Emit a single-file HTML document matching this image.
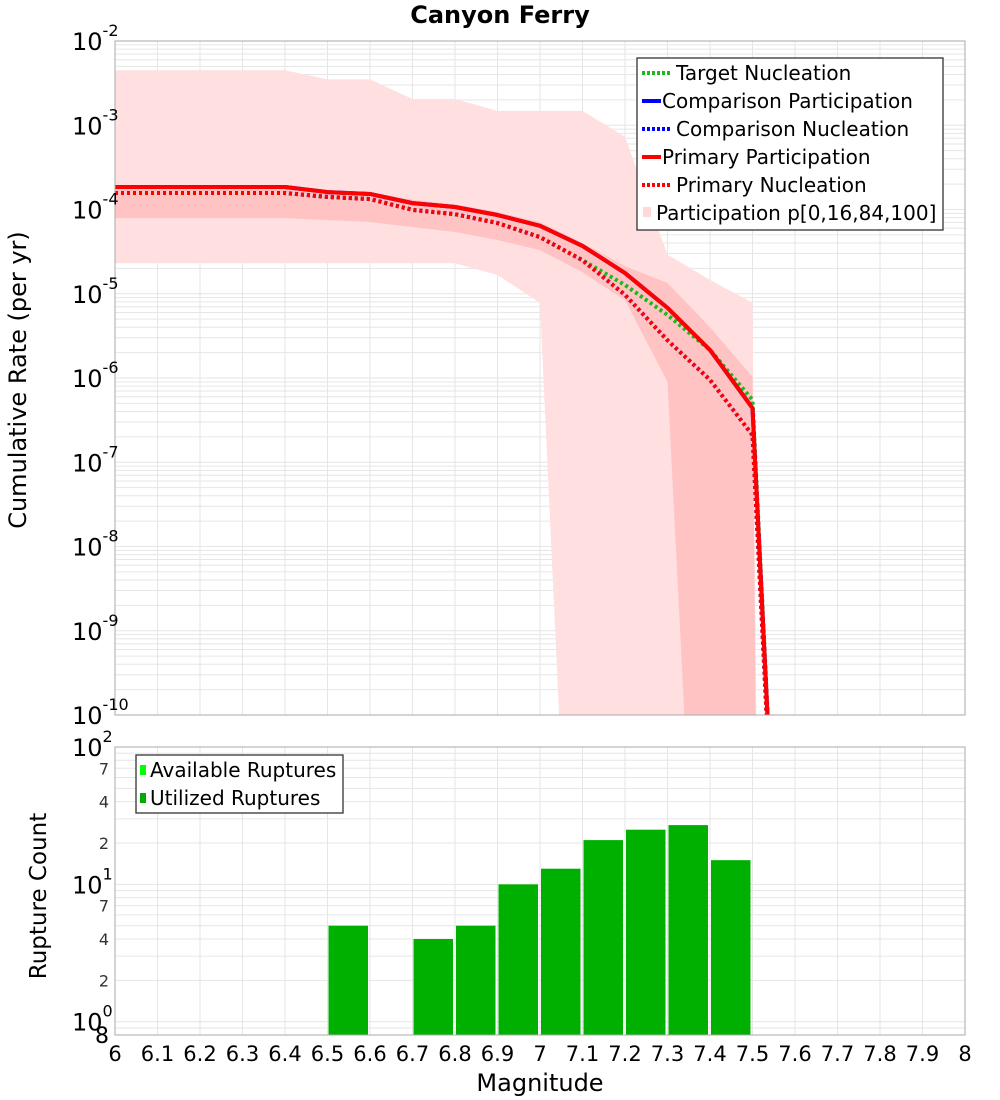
<!DOCTYPE html>
<html><head><meta charset="utf-8"><style>
html,body{margin:0;background:#fff;overflow:hidden;width:1000px;height:1100px;}
svg{display:block;font-family:"Liberation Sans","DejaVu Sans",sans-serif;}
</style></head><body>
<svg id="chart" width="1000" height="1100" viewBox="0 0 1000 1100" xmlns="http://www.w3.org/2000/svg">
<defs>
<clipPath id="topClip"><rect x="115" y="41" width="850" height="674"/></clipPath>
<clipPath id="botClip"><rect x="115" y="747" width="850" height="288"/></clipPath>
</defs>
<text x="500" y="23" text-anchor="middle" font-size="24" font-weight="bold" font-family="DejaVu Sans, sans-serif">Canyon Ferry</text>
<g id="topGrid"></g>
<g id="topBands" clip-path="url(#topClip)"></g>
<g id="topLines" clip-path="url(#topClip)"></g>
<rect x="115" y="41" width="850" height="674" fill="none" stroke="#aaa" stroke-width="1"/>
<g id="topYTicks"></g>
<text transform="translate(26,380) rotate(-90)" text-anchor="middle" font-size="24" font-family="DejaVu Sans, sans-serif">Cumulative Rate (per yr)</text>
<g>
<rect x="637" y="58" width="306" height="172" fill="#fff" stroke="#333" stroke-width="1.3"/>
<line x1="642" y1="73" x2="670" y2="73" stroke="#1cb81c" stroke-width="4" stroke-dasharray="3,2"/>
<text x="676" y="80" font-size="20" font-family="DejaVu Sans, sans-serif">Target Nucleation</text>
<line x1="642" y1="101" x2="661" y2="101" stroke="#0000ff" stroke-width="4"/>
<text x="662" y="108" font-size="20" font-family="DejaVu Sans, sans-serif">Comparison Participation</text>
<line x1="642" y1="129" x2="670" y2="129" stroke="#0000ff" stroke-width="4" stroke-dasharray="3,2"/>
<text x="676" y="136" font-size="20" font-family="DejaVu Sans, sans-serif">Comparison Nucleation</text>
<line x1="642" y1="157" x2="661" y2="157" stroke="#ff0000" stroke-width="4"/>
<text x="662" y="164" font-size="20" font-family="DejaVu Sans, sans-serif">Primary Participation</text>
<line x1="642" y1="185" x2="670" y2="185" stroke="#ff0000" stroke-width="4" stroke-dasharray="3,2"/>
<text x="676" y="192" font-size="20" font-family="DejaVu Sans, sans-serif">Primary Nucleation</text>
<rect x="643" y="207" width="8" height="10" fill="#ffd8d8"/>
<text x="656" y="220" font-size="20" font-family="DejaVu Sans, sans-serif">Participation p[0,16,84,100]</text>
</g>
<g id="botGrid"></g>
<g id="botBars" clip-path="url(#botClip)"></g>
<rect x="115" y="747" width="850" height="288" fill="none" stroke="#aaa" stroke-width="1"/>
<g id="botYTicks"></g>
<g id="xTicks"></g>
<text transform="translate(46,896) rotate(-90)" text-anchor="middle" font-size="23" font-family="DejaVu Sans, sans-serif">Rupture Count</text>
<text x="540" y="1091" text-anchor="middle" font-size="24" font-family="DejaVu Sans, sans-serif">Magnitude</text>
<g>
<rect x="136" y="755" width="207" height="58" fill="#fff" stroke="#333" stroke-width="1.3"/>
<rect x="140" y="765" width="6" height="10" fill="#00ff00"/>
<text x="150" y="777" font-size="20" font-family="DejaVu Sans, sans-serif">Available Ruptures</text>
<rect x="140" y="793" width="6" height="10" fill="#00aa00"/>
<text x="150" y="805" font-size="20" font-family="DejaVu Sans, sans-serif">Utilized Ruptures</text>
</g>
</svg>
<script>
const magnitudes = [6.0,6.1,6.2,6.3,6.4,6.5,6.6,6.7,6.8,6.9,7.0,7.1,7.2,7.3,7.4,7.5,7.6];
const primaryParticipation = [1.85e-4,1.85e-4,1.85e-4,1.85e-4,1.85e-4,1.61e-4,1.53e-4,1.19e-4,1.07e-4,8.6e-5,6.4e-5,3.7e-5,1.76e-5,6.8e-6,2.15e-6,4.4e-7,2e-17];
const primaryNucleation = [1.57e-4,1.57e-4,1.57e-4,1.57e-4,1.57e-4,1.41e-4,1.33e-4,9.9e-5,8.8e-5,6.9e-5,4.7e-5,2.5e-5,9.7e-6,2.8e-6,9.5e-7,2.1e-7,2e-17];
const targetNucleation = [1.57e-4,1.57e-4,1.57e-4,1.57e-4,1.57e-4,1.41e-4,1.33e-4,9.9e-5,8.8e-5,6.9e-5,4.7e-5,2.5e-5,1.27e-5,5.6e-6,2.15e-6,5.5e-7,2e-17];
const comparisonParticipation = primaryParticipation.slice();
const comparisonNucleation = primaryNucleation.slice();
const p0 = [2.3e-5,2.3e-5,2.3e-5,2.3e-5,2.3e-5,2.3e-5,2.3e-5,2.3e-5,2.3e-5,1.67e-5,7.8e-6,1e-16,1e-16,1e-16,1e-16,1e-16,1e-16];
const p16 = [7.9e-5,7.9e-5,7.9e-5,7.9e-5,7.9e-5,7.5e-5,7.1e-5,6.2e-5,5.4e-5,4.35e-5,3.3e-5,1.8e-5,8.4e-6,9.0e-7,1e-16,1e-16,1e-16];
const p84 = [1.95e-4,1.95e-4,1.95e-4,1.95e-4,1.95e-4,1.7e-4,1.6e-4,1.3e-4,1.15e-4,9.3e-5,7.1e-5,4.0e-5,2.13e-5,1.34e-5,4.0e-6,1.03e-6,1e-60];
const p100 = [4.5e-3,4.5e-3,4.5e-3,4.5e-3,4.5e-3,3.5e-3,3.5e-3,2.05e-3,2.05e-3,1.48e-3,1.48e-3,1.48e-3,7.3e-4,2.9e-5,1.46e-5,7.8e-6,1e-60];
const binStarts = [6.5,6.7,6.8,6.9,7.0,7.1,7.2,7.3,7.4];
const utilizedCounts = [5,4,5,10,13,21,25,27,15];
const topExponents = [-2,-3,-4,-5,-6,-7,-8,-9,-10];
const xTickLabels = ["6","6.1","6.2","6.3","6.4","6.5","6.6","6.7","6.8","6.9","7","7.1","7.2","7.3","7.4","7.5","7.6","7.7","7.8","7.9","8"];

const NS="http://www.w3.org/2000/svg";
const X0=115,X1=965,TY0=41,TY1=715,BY0=747,BY1=1035;
function xS(m){return X0+(m-6)*(X1-X0)/2;}
function yTop(v){return TY0+(-2-Math.log10(v))*(TY1-TY0)/8;}
const bLo=Math.log10(0.8);
function yBot(v){return BY0+(2-Math.log10(v))*(BY1-BY0)/(2-bLo);}
function mk(tag,attrs,parent){const e=document.createElementNS(NS,tag);for(const k in attrs)e.setAttribute(k,attrs[k]);parent.appendChild(e);return e;}

const tg=document.getElementById('topGrid');
for(let i=0;i<=20;i++){const x=xS(6+i*0.1);
 const l=mk('line',{x1:x,x2:x,y1:TY0,y2:TY1,stroke:'#e6e6e6','stroke-width':1},tg);
 
 }
for(let e=-10;e<-2;e++){for(let k=1;k<10;k++){const y=yTop(k*Math.pow(10,e));
 const l=mk('line',{x1:X0,x2:X1,y1:y,y2:y,stroke:'#e6e6e6','stroke-width':1},tg);
 
 }}

function bandPath(lo,hi){let d='';
 for(let i=0;i<magnitudes.length;i++){d+=(i?'L':'M')+xS(magnitudes[i])+','+yTop(hi[i]);}
 for(let i=magnitudes.length-1;i>=0;i--){d+='L'+xS(magnitudes[i])+','+yTop(lo[i]);}
 return d+'Z';}
const bg=document.getElementById('topBands');
const outer=mk('path',{d:bandPath(p0,p100),fill:'#ffdfe0'},bg);


const inner=mk('path',{d:bandPath(p16,p84),fill:'#ffc3c4'},bg);



function linePath(vals){return vals.map((v,i)=>(i?'L':'M')+xS(magnitudes[i])+','+yTop(v)).join('');}
const lg=document.getElementById('topLines');
const series=[
 [targetNucleation,'#1cb81c',true,'target-nucleation-line'],
 [comparisonParticipation,'#0000ff',false,'comparison-participation-line'],
 [comparisonNucleation,'#0000ff',true,'comparison-nucleation-line'],
 [primaryParticipation,'#ff0000',false,'primary-participation-line'],
 [primaryNucleation,'#ff0000',true,'primary-nucleation-line']];
series.forEach(s=>{const a={d:linePath(s[0]),fill:'none',stroke:s[1],'stroke-width':4,'stroke-linejoin':'round'};
 if(s[2])a['stroke-dasharray']='3,3';
 const p=mk('path',a,lg);
 
 });

const ty=document.getElementById('topYTicks');
topExponents.forEach(e=>{const y=yTop(Math.pow(10,e));
 const t=mk('text',{x:72,y:y+9,'font-size':24,'font-family':'DejaVu Sans, sans-serif'},ty);
 
 
 t.textContent='10';
 const s=mk('tspan',{dy:-14,'font-size':16},t);s.textContent=String(e);});

const gg=document.getElementById('botGrid');
for(let i=0;i<=20;i++){const x=xS(6+i*0.1);
 const l=mk('line',{x1:x,x2:x,y1:BY0,y2:BY1,stroke:'#e6e6e6','stroke-width':1},gg);
 
 }
[0.8,0.9,1,2,3,4,5,6,7,8,9,10,20,30,40,50,60,70,80,90].forEach(v=>{const y=yBot(v);
 const l=mk('line',{x1:X0,x2:X1,y1:y,y2:y,stroke:'#e6e6e6','stroke-width':1},gg);
 
 });

const bb=document.getElementById('botBars');
binStarts.forEach((m,i)=>{const x=xS(m)+1,w=xS(m+0.1)-xS(m)-3,y=yBot(utilizedCounts[i]);
 const r=mk('rect',{x:x,y:y,width:w,height:BY1-y,fill:'#00b000'},bb);
 
 });

const by=document.getElementById('botYTicks');
[[100,'2'],[10,'1'],[1,'0']].forEach(p=>{const y=yBot(p[0]);
 const t=mk('text',{x:72,y:y+9,'font-size':24,'font-family':'DejaVu Sans, sans-serif'},by);
 
 
 t.textContent='10';
 const s=mk('tspan',{dy:-14,'font-size':16},t);s.textContent=p[1];});
[7,4,2,70,40,20].forEach(v=>{const y=yBot(v);
 const t=mk('text',{x:104,y:y+6,'font-size':16,'text-anchor':'middle','font-family':'DejaVu Sans, sans-serif',fill:'#333'},by);
 
 
 t.textContent=String(Math.round(v/(v>=10?10:1)));});
const t8=mk('text',{x:102,y:yBot(0.8)+8,'font-size':22,'text-anchor':'middle','font-family':'DejaVu Sans, sans-serif'},by);


t8.textContent='8';

const xt=document.getElementById('xTicks');
xTickLabels.forEach((lab,i)=>{const x=xS(6+i*0.1);
 const t=mk('text',{x:x,y:1061,'font-size':21,'text-anchor':'middle','font-family':'DejaVu Sans, sans-serif'},xt);
 
 
 t.textContent=lab;});
</script>
</body></html>
